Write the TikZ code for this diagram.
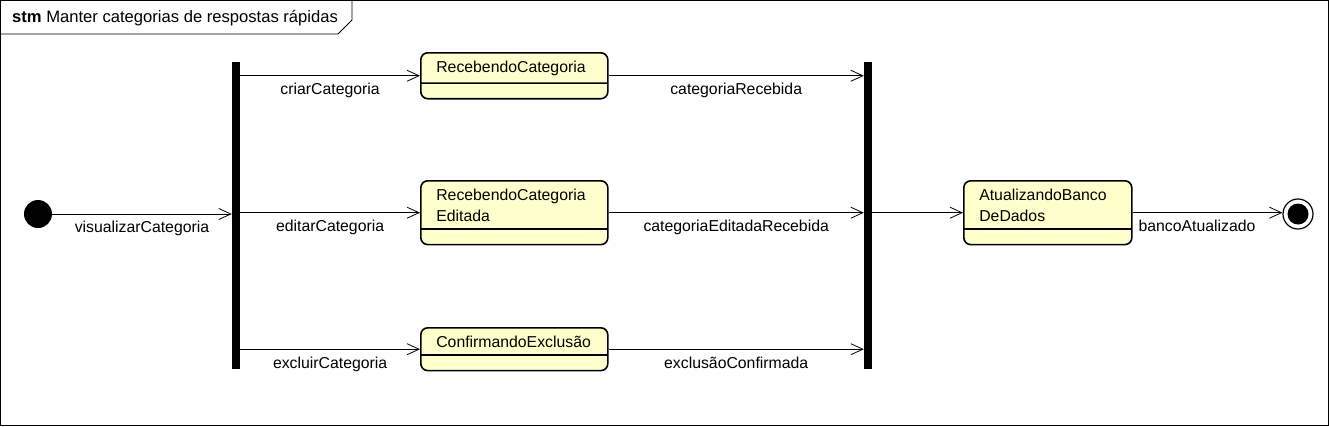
\documentclass[tikz,border=0pt]{standalone}
\usepackage{fontspec}
\setmainfont{Liberation Sans}
\usetikzlibrary{shapes,arrows.meta,positioning,calc}
\definecolor{stateFill}{RGB}{255,255,204}

\begin{document}
\begin{tikzpicture}[
    x=1pt, y=-1pt,
    font=\fontsize{15.8}{21}\selectfont,
    state/.style={rectangle split, rectangle split parts=2, rectangle split ignore empty parts=false, rectangle split empty part height=1pt, draw, line width=1.6pt, rounded corners=7pt, fill=stateFill, align=left, inner xsep=15.5pt, inner ysep=7pt, anchor=north west},
    bar/.style={rectangle, fill=black, minimum width=8pt, minimum height=307pt, inner sep=0pt},
    arrow/.style={-{Straight Barb[length=12pt,width=11pt]}, line width=0.8pt},
    lbl/.style={below=7pt, inner sep=0pt}
]
\useasboundingbox (0,0) rectangle (1329,426);

% Frame
\draw[line width=0.8pt] (0.5,0.5) rectangle (1328.5,425.5);
\draw[line width=0.8pt] (0,34) -- (338,34) -- (352,20) -- (352,0);
\node[anchor=west, inner sep=0pt, font=\fontsize{16.6}{21}\selectfont] (title) at (12,18) {\textbf{stm} Manter categorias de respostas rápidas};

% States
\node[circle, fill=black, minimum size=28pt, inner sep=0pt] (start) at (38,214) {};
\node[bar] (fork) at (236,215.5) {};
\node[state, text width=156pt] (recCat) at (420,52) {RecebendoCategoria\nodepart{two}};
\node[state, text width=156pt] (recCatEdit) at (420,180) {RecebendoCategoria\\Editada\nodepart{two}};
\node[state, text width=156pt] (confExcl) at (420,327) {ConfirmandoExclusão\nodepart{two}};
\node[bar] (join) at (868,215.5) {};
\node[state, text width=137pt] (atualBanco) at (963,180) {AtualizandoBanco\\DeDados\nodepart{two}};
\node[circle, draw, line width=1.2pt, minimum size=30pt, inner sep=0pt] (final) at (1298,214) {};
\node[circle, fill=black, minimum size=21pt, inner sep=0pt] (finalDot) at (final) {};

% Arrows
\draw[arrow] (start) -- node[lbl] {visualizarCategoria} (start -| fork.west);
\draw[arrow] (fork.east |- recCat.west) -- node[lbl] {criarCategoria} (recCat.west);
\draw[arrow] (fork.east |- recCatEdit.west) -- node[lbl] {editarCategoria} (recCatEdit.west);
\draw[arrow] (fork.east |- confExcl.west) -- node[lbl] {excluirCategoria} (confExcl.west);
\draw[arrow] (recCat.east) -- node[lbl] {categoriaRecebida} (recCat.east -| join.west);
\draw[arrow] (recCatEdit.east) -- node[lbl] {categoriaEditadaRecebida} (recCatEdit.east -| join.west);
\draw[arrow] (confExcl.east) -- node[lbl] {exclusãoConfirmada} (confExcl.east -| join.west);
\draw[arrow] (join.east |- atualBanco.west) -- (atualBanco.west);
\draw[arrow] (atualBanco.east) -- node[lbl, pos=0.43] {bancoAtualizado} (atualBanco.east -| final.west);

\end{tikzpicture}
\end{document}
